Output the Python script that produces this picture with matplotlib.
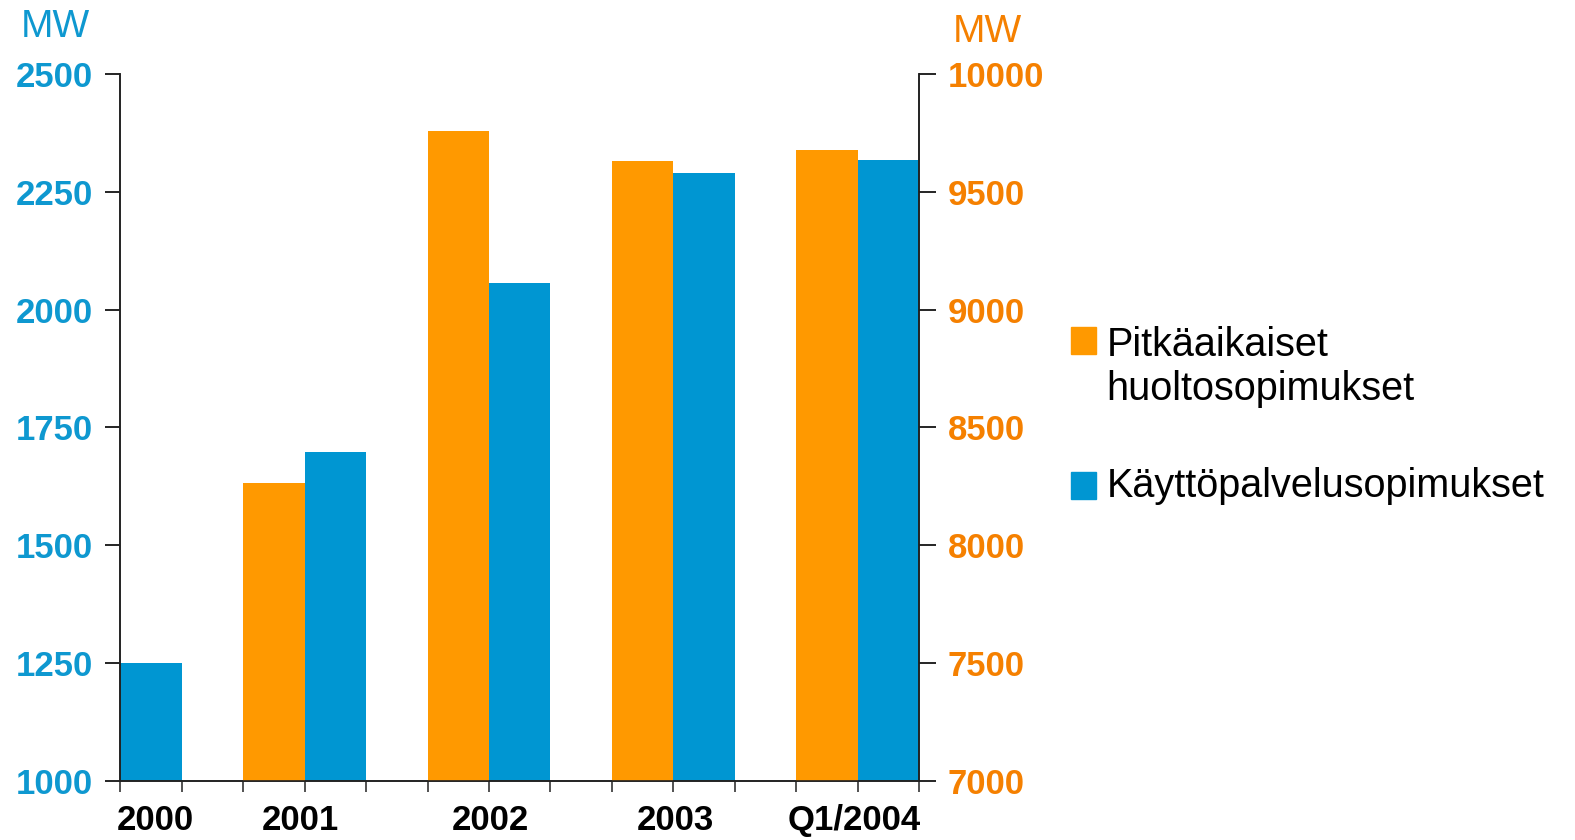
import matplotlib.pyplot as plt
from matplotlib.patches import Rectangle

plt.rcParams['font.family'] = ['Liberation Sans', 'DejaVu Sans']

# values
years = ['2000', '2001', '2002', '2003', 'Q1/2004']
huolto = [None, 8263, 9761, 9633, 9680]     # orange, right axis
kaytto = [1250, 1698, 2056, 2291, 2319]     # blue, left axis
left_ticks = [1000, 1250, 1500, 1750, 2000, 2250, 2500]
right_ticks = [7000, 7500, 8000, 8500, 9000, 9500, 10000]
legend_names = ['Pitkäaikaiset\nhuoltosopimukset', 'Käyttöpalvelusopimukset']

blue = '#0096D2'
orange = '#FF9900'
blue_txt = '#0E98D0'
orange_txt = '#F58000'

fig = plt.figure(figsize=(15.75, 8.4), dpi=100)
ax = fig.add_axes([0.0765, 0.0708, 0.507, 0.8407])
ax2 = ax.twinx()

# each group is 3 units wide: orange bar, blue bar, gap
for g in range(len(years)):
    ax.bar(3 * g, kaytto[g], width=1, align='edge', color=blue, zorder=2)
    if huolto[g] is not None:
        ax2.bar(3 * g - 1, huolto[g], width=1, align='edge', color=orange, zorder=2)

ax.set_xlim(0, 13)
ax.set_ylim(1000, 2500)
ax2.set_ylim(7000, 10000)

ax.set_yticks(left_ticks)
ax.set_yticklabels([str(t) for t in left_ticks], color=blue_txt,
                   fontsize=25, fontweight='bold')
ax2.set_yticks(right_ticks)
ax2.set_yticklabels([str(t) for t in right_ticks], color=orange_txt,
                    fontsize=25, fontweight='bold')

# labels under the groups (major, no mark), tick marks at every bar edge (minor)
ax.xaxis.remove_overlapping_locs = False
ax.set_xticks([0.56, 2.93, 6.02, 9.03, 11.94])
ax.set_xticklabels(years, fontsize=25, fontweight='bold')
ax.set_xticks(range(14), minor=True)
ax.tick_params(axis='x', which='major', length=0, pad=17)
ax.tick_params(axis='x', which='minor', length=8, width=1.2, color='#333333')
ax.tick_params(axis='y', length=11, width=1.2, pad=8.7)
ax2.tick_params(axis='y', length=12, width=1.2, pad=8.5)

for a in (ax, ax2):
    a.spines['top'].set_visible(False)
    for s in ('left', 'right', 'bottom'):
        a.spines[s].set_linewidth(1.2)
        a.spines[s].set_color('#222222')

fig.text(0.035, 0.968, 'MW', color=blue_txt, fontsize=28, ha='center', va='center')
fig.text(0.627, 0.962, 'MW', color=orange_txt, fontsize=28, ha='center', va='center')

# legend drawn by hand so the orange square sits on the first text line
for y0, col in ((0.579, orange), (0.406, blue)):
    fig.patches.append(Rectangle((0.6797, y0), 0.0159, 0.032, color=col,
                                 transform=fig.transFigure, figure=fig))
fig.text(0.7025, 0.524, legend_names[0], fontsize=28.5, va='baseline',
         linespacing=1.18)
fig.text(0.7025, 0.408, legend_names[1], fontsize=28.5, va='baseline')

fig.savefig('out.png', dpi=100)
